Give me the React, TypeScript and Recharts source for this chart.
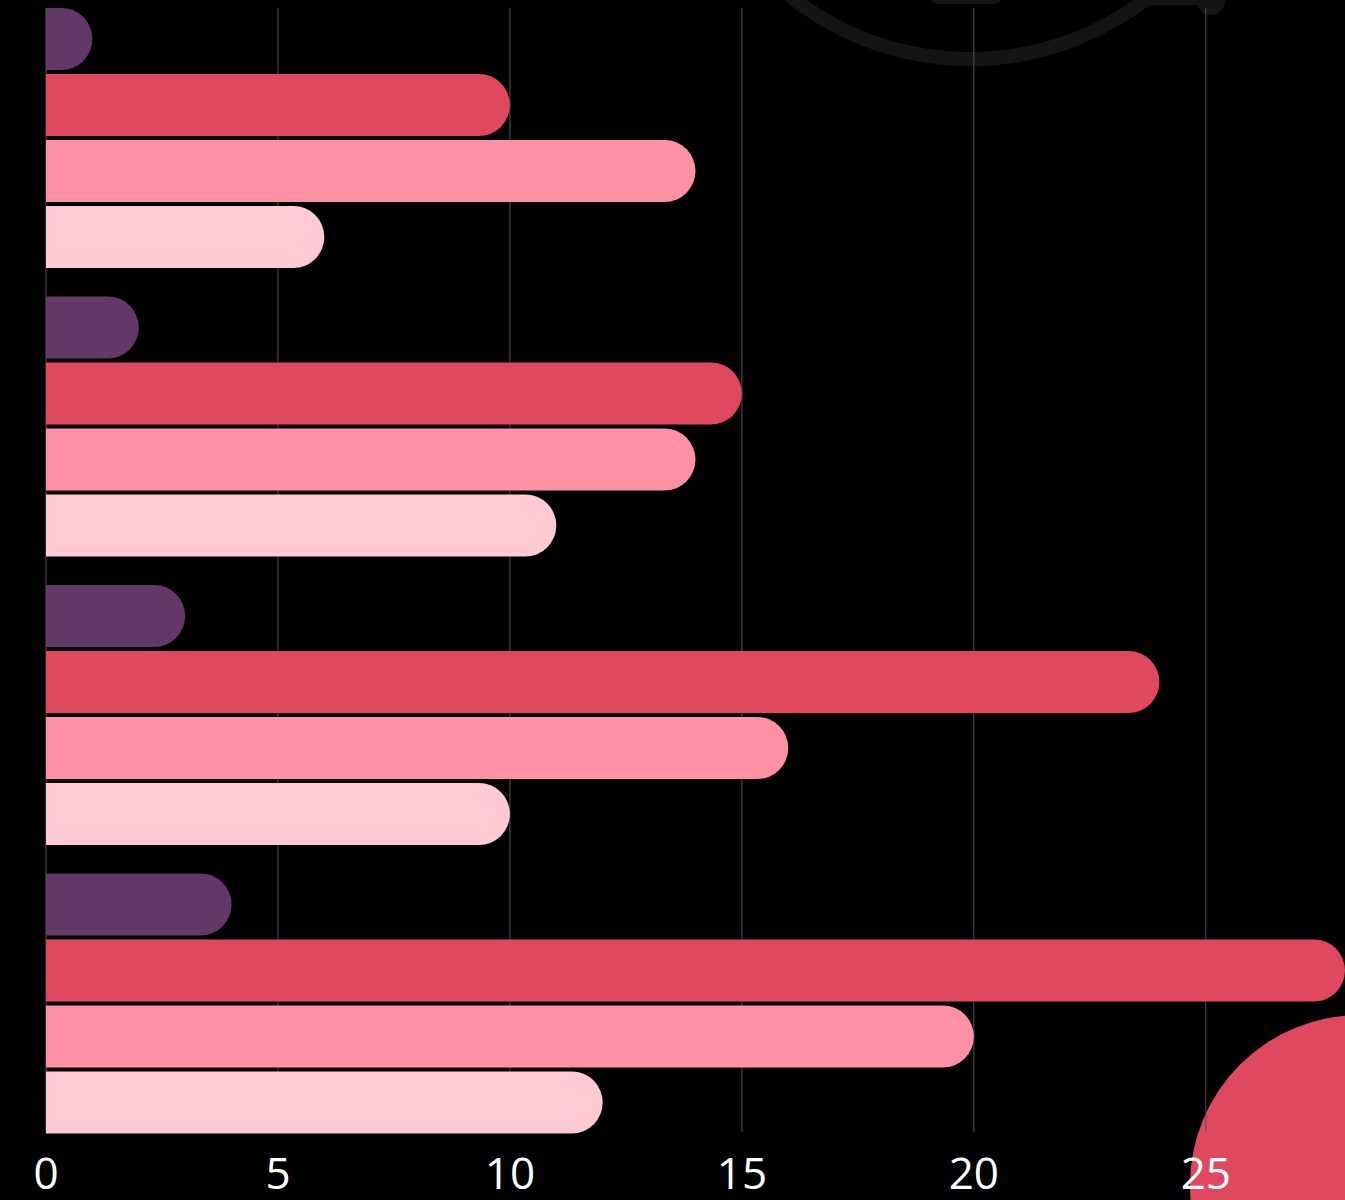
import { BarChart, Bar, XAxis, YAxis, CartesianGrid } from 'recharts'

const categories = ['Group 1', 'Group 2', 'Group 3', 'Group 4']
const seriesA = [1, 2, 3, 4]
const seriesB = [10, 15, 24, 28]
const seriesC = [14, 14, 16, 20]
const seriesD = [6, 11, 10, 12]
const xTicks = [0, 5, 10, 15, 20, 25]

const SERIES = [
  { key: 'a', color: '#623867' },
  { key: 'b', color: '#e0485f' },
  { key: 'c', color: '#ff91a4' },
  { key: 'd', color: '#ffcad4' },
]

const data = categories.map((name, i) => ({
  name,
  a: seriesA[i],
  b: seriesB[i],
  c: seriesC[i],
  d: seriesD[i],
}))

// pill end on the right; radius is only limited by the bar's own width
function PillBar(props: any) {
  const { x, y, width, height, fill } = props
  if (!width || width <= 0) return null
  const r = Math.min(height / 2, width)
  const d = `M${x},${y} H${x + width - r} A${r},${r} 0 0 1 ${x + width},${y + r} V${y + height - r} A${r},${r} 0 0 1 ${x + width - r},${y + height} H${x} Z`
  return <path d={d} fill={fill} />
}

// background shapes sitting behind the chart
function Decor() {
  return (
    <svg width={1345} height={1200} style={{ position: 'absolute', left: 0, top: 0 }}>
      <circle cx={970} cy={-230} r={289} fill="none" stroke="#141414" strokeWidth={14} />
      <rect x={930} y={-12} width={72} height={16} rx={8} fill="#141414" />
      <rect x={1140} y={-12} width={80} height={17} rx={6} fill="#141414" />
      <circle cx={1211} cy={1} r={14} fill="#141414" />
      <circle cx={1360} cy={1185} r={170} fill="#e0485f" />
    </svg>
  )
}

export default function App() {
  return (
    <div style={{ position: 'absolute', left: 0, top: 0, width: 1345, height: 1200, background: '#000', overflow: 'hidden' }}>
      <Decor />
      <div style={{ position: 'absolute', left: 0, top: 0 }}>
        <BarChart
          width={1345}
          height={1200}
          data={data}
          layout="vertical"
          margin={{ top: 8, right: 0, left: 46, bottom: 0 }}
          barCategoryGap={15}
          barGap={4}
        >
          <CartesianGrid horizontal={false} stroke="#555" verticalValues={xTicks} />
          <XAxis
            type="number"
            domain={[0, 28]}
            ticks={xTicks}
            allowDataOverflow
            axisLine={false}
            tickLine={false}
            tickMargin={20}
            height={68}
            tick={{ fill: '#fff', fontSize: 44, fontFamily: 'Open Sans' }}
          />
          <YAxis
            type="category"
            dataKey="name"
            hide
            padding={{ top: -15, bottom: -15 }}
          />
          {SERIES.map(s => (
            <Bar
              key={s.key}
              dataKey={s.key}
              fill={s.color}
              shape={PillBar}
              isAnimationActive={false}
            />
          ))}
        </BarChart>
      </div>
    </div>
  )
}
